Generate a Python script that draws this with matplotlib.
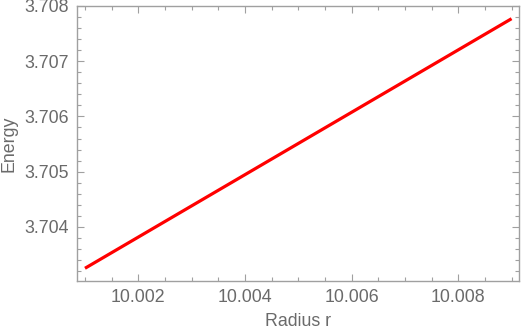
import matplotlib
matplotlib.use("Agg")
import matplotlib.pyplot as plt
from matplotlib.ticker import MultipleLocator, FormatStrFormatter

# energy vs radius
radius = [10.001, 10.003, 10.005, 10.007, 10.009]
energy = [3.70325, 3.70438, 3.70551, 3.70664, 3.70777]

FRAME = "#a0a0a0"
TEXT = "#6a6a6a"

plt.rcParams["font.family"] = ["Liberation Sans", "DejaVu Sans"]

fig = plt.figure(figsize=(5.23, 3.31), dpi=100)
ax = fig.add_axes([0.1472, 0.1511, 0.8452, 0.8308])

ax.plot(radius, energy, color="#ff0000", linewidth=2.3, solid_capstyle="butt")

ax.set_xlim(10.00085, 10.00914)
ax.set_ylim(3.70302, 3.708)

ax.xaxis.set_major_locator(MultipleLocator(0.002))
ax.xaxis.set_minor_locator(MultipleLocator(0.0005))
ax.yaxis.set_major_locator(MultipleLocator(0.001))
ax.yaxis.set_minor_locator(MultipleLocator(0.0002))
ax.xaxis.set_major_formatter(FormatStrFormatter("%.3f"))
ax.yaxis.set_major_formatter(FormatStrFormatter("%.3f"))

ax.tick_params(which="both", direction="in", top=True, right=True,
               color=FRAME, labelcolor=TEXT, labelsize=12.8, width=0.8)
ax.tick_params(which="major", length=5, pad=6)
ax.tick_params(which="minor", length=3)

for s in ax.spines.values():
    s.set_color(FRAME)
    s.set_linewidth(1.0)

ax.set_xlabel("Radius r", color=TEXT, fontsize=12.8, labelpad=5)
ax.set_ylabel("Energy", color=TEXT, fontsize=12.8, labelpad=5)

fig.savefig("out.png", dpi=100)
